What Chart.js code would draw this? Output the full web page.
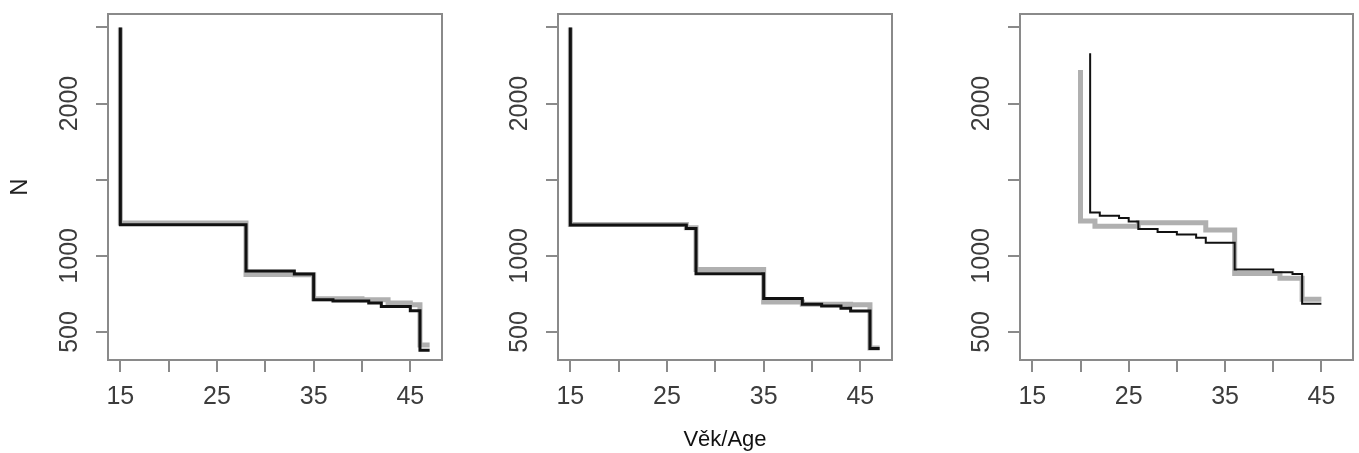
<!DOCTYPE html>
<html><head><meta charset="utf-8">
<script src="https://cdn.jsdelivr.net/npm/chart.js@4.4.1/dist/chart.umd.min.js"></script>
<style>
html,body{margin:0;padding:0;background:#fff;}
body{width:1359px;height:453px;position:relative;overflow:hidden;}
canvas{position:absolute;top:0;}
</style></head><body>
<canvas id="c1" width="448" height="453" style="left:0px"></canvas>
<canvas id="c2" width="448" height="453" style="left:450px"></canvas>
<canvas id="c3" width="447" height="453" style="left:912px"></canvas>
<script>
// ---- data ----
const xTicks = [15, 20, 25, 30, 35, 40, 45];
const xTickLabels = ['15', '', '25', '', '35', '', '45'];
const yTicks = [500, 1000, 1500, 2000, 2500];
const yTickLabels = ['500', '1000', '', '2000', ''];
const xTitle = 'Věk/Age';
const yTitle = 'N';

const p1BlackAge = [15, 15, 28, 33, 35, 37, 40.7, 42, 45, 46, 47];
const p1BlackN   = [2500, 1204, 900, 880, 711, 704, 690, 667, 640, 380, 380];
const p1GreyAge  = [15, 15, 28, 33, 35, 40, 42.7, 45, 46, 47];
const p1GreyN    = [2500, 1215, 878, 875, 718, 712, 690, 678, 414, 414];

const p2BlackAge = [15, 15, 27, 28, 35, 39, 41, 43, 44, 46, 47];
const p2BlackN   = [2500, 1202, 1180, 882, 720, 682, 671, 656, 638, 392, 392];
const p2GreyAge  = [15, 15, 27, 28, 35, 39, 44, 46, 47];
const p2GreyN    = [2500, 1206, 1185, 910, 697, 682, 678, 395, 395];

const p3BlackAge = [21, 21, 22, 24, 25, 26, 28, 30, 32, 33, 36, 40, 42, 43, 45];
const p3BlackN   = [2330, 1285, 1263, 1248, 1226, 1176, 1157, 1140, 1118, 1086, 910, 893, 880, 686, 686];
const p3GreyAge  = [20, 20, 21.5, 26, 33, 36, 40.7, 43, 45];
const p3GreyN    = [2220, 1228, 1195, 1217, 1170, 884, 853, 715, 715];

// ---- styling ----
const FONT = 'Liberation Sans, Arial, Helvetica, sans-serif';
const AXIS_COL = '#8a8a8a';
const TICK_COL = '#3c3c3c';

const framePlugin = {
  id: 'frame',
  afterDraw(chart) {
    const a = chart.chartArea, ctx = chart.ctx;
    ctx.save();
    ctx.strokeStyle = AXIS_COL;
    ctx.lineWidth = 2;
    ctx.strokeRect(a.left, a.top, a.right - a.left, a.bottom - a.top);
    ctx.restore();
  }
};

function pts(ages, ns) { return ages.map((a, i) => ({x: a, y: ns[i]})); }

function makeChart(id, bA, bN, gA, gN, blackW, showY, showX) {
  new Chart(document.getElementById(id), {
    type: 'line',
    data: {
      datasets: [
        {data: pts(bA, bN), borderColor: '#111111', borderWidth: blackW, stepped: 'before',
         pointRadius: 0, fill: false, borderJoinStyle: 'miter', borderCapStyle: 'butt', order: 0},
        {data: pts(gA, gN), borderColor: '#b0b0b0', borderWidth: 5, stepped: 'before',
         pointRadius: 0, fill: false, borderJoinStyle: 'miter', borderCapStyle: 'butt', order: 1}
      ]
    },
    options: {
      responsive: false, animation: false, devicePixelRatio: 1,
      layout: {padding: {top: 14, right: 6, bottom: 0, left: 0}},
      plugins: {legend: {display: false}, tooltip: {enabled: false}},
      scales: {
        x: {
          type: 'linear', min: 13.72, max: 48.28,
          afterBuildTicks: s => { s.ticks = xTicks.map(v => ({value: v})); },
          afterFit: s => { s.height = 93; },
          ticks: {autoSkip: false, maxRotation: 0, minRotation: 0, padding: 10,
                  color: TICK_COL, font: {family: FONT, size: 25},
                  callback: (v, i) => xTickLabels[i]},
          grid: {drawOnChartArea: false, drawTicks: true, tickLength: 12, tickWidth: 2, color: AXIS_COL, lineWidth: 2},
          border: {display: false},
          title: {display: showX, text: xTitle, color: '#111', font: {family: FONT, size: 22},
                  padding: {top: 0, bottom: 0}}
        },
        y: {
          type: 'linear', min: 316, max: 2588,
          afterBuildTicks: s => { s.ticks = yTicks.map(v => ({value: v})); },
          afterFit: s => { s.width = 108; },
          ticks: {autoSkip: false, minRotation: 90, maxRotation: 90, crossAlign: 'center', padding: -2,
                  color: TICK_COL, font: {family: FONT, size: 25},
                  callback: (v, i) => yTickLabels[i]},
          grid: {drawOnChartArea: false, drawTicks: true, tickLength: 12, tickWidth: 2, color: AXIS_COL, lineWidth: 2},
          border: {display: false},
          title: {display: showY, text: yTitle, color: '#222', font: {family: FONT, size: 24},
                  padding: {top: 6, bottom: 0}}
        }
      }
    },
    plugins: [framePlugin]
  });
}

makeChart('c1', p1BlackAge, p1BlackN, p1GreyAge, p1GreyN, 3, true, false);
makeChart('c2', p2BlackAge, p2BlackN, p2GreyAge, p2GreyN, 3, false, true);
makeChart('c3', p3BlackAge, p3BlackN, p3GreyAge, p3GreyN, 2, false, false);
</script>
</body></html>
